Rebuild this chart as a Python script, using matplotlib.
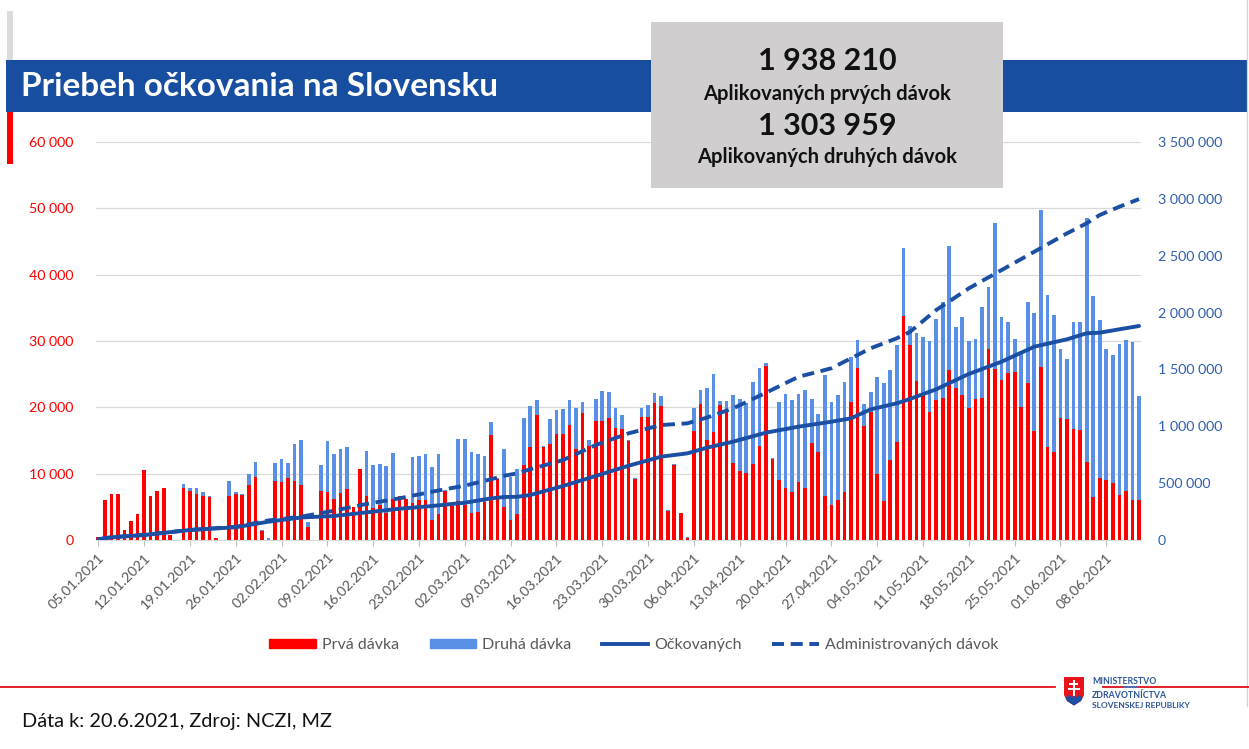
import matplotlib
matplotlib.use('Agg')
import matplotlib.pyplot as plt
from matplotlib.patches import Rectangle, Polygon, Patch
from matplotlib.lines import Line2D
from matplotlib.ticker import FuncFormatter, MultipleLocator

plt.rcParams['font.family'] = ['Lato', 'DejaVu Sans']

# ---------------- data ----------------
# daily first doses (Prvá dávka), starting 05.01.2021
prva = [400, 6060, 6970, 6970, 1520, 2930, 3990, 10500, 6620, 7370,
        7780, 760, 0, 7830, 7370, 6970, 6620, 6460, 300, 0,
        6620, 6970, 6820, 8230, 9440, 1410, 0, 8840, 8690, 9290,
        8840, 8230, 1920, 0, 7370, 7220, 6210, 7070, 7630, 4950,
        10660, 6670, 4850, 5350, 4140, 6110, 6570, 6110, 5600, 6060,
        6060, 3080, 3890, 7320, 5200, 5910, 5250, 4140, 4290, 5760,
        15760, 9240, 5000, 3080, 3890, 11360, 14040, 18840, 14040, 14440,
        15910, 15910, 17270, 13690, 19190, 14240, 17980, 17980, 18430, 16820,
        16770, 14950, 9190, 18590, 18590, 20610, 20200, 4340, 11260, 4040,
        300, 16480, 20450, 15030, 16270, 20300, 19650, 11590, 10330, 10130,
        11490, 14110, 26300, 12190, 9120, 7910, 7300, 8670, 7910, 14560,
        13250, 6700, 5290, 6050, 7200, 20860, 25890, 17180, 19290, 9920,
        5890, 12090, 14810, 33750, 29360, 23920, 21800, 19230, 21150, 21400,
        25680, 22910, 21850, 19840, 21250, 21450, 28750, 25830, 24070, 25130,
        25280, 20090, 23670, 16470, 26030, 13950, 13340, 18330, 18180, 16720,
        16570, 11730, 6450, 9320, 9060, 8660, 6750, 7450, 6040, 6040]

# daily second doses (Druhá dávka)
druha = [0, 0, 0, 0, 0, 0, 0, 0, 0, 0,
         0, 0, 0, 600, 460, 860, 600, 210, 0, 0,
         2220, 250, 150, 1670, 2330, 100, 250, 2780, 3480, 2330,
         5600, 6820, 760, 0, 3890, 7680, 6720, 6620, 6410, 0,
         100, 6710, 6510, 6150, 7070, 6970, 50, 0, 6920, 6620,
         6870, 7980, 9040, 150, 0, 9290, 9950, 9090, 8640, 6920,
         2020, 100, 8690, 6410, 6870, 7070, 6160, 2270, 150, 3840,
         3690, 3890, 3840, 6260, 1570, 810, 3330, 4550, 3940, 3130,
         2070, 100, 150, 1360, 1760, 1610, 1570, 150, 150, 0,
         200, 3370, 2120, 7870, 8820, 660, 1310, 10320, 10980, 10570,
         12290, 11890, 400, 150, 11690, 14160, 13860, 13400, 14660, 6700,
         5740, 18140, 15520, 15860, 16580, 6750, 4240, 3270, 3030, 14610,
         17790, 13500, 14560, 10250, 2870, 7300, 8860, 10830, 12130, 14550,
         18630, 9210, 11730, 10120, 9010, 13650, 9320, 22000, 9510, 7700,
         4980, 8460, 12280, 17720, 23720, 23010, 20550, 10420, 9110, 16110,
         16260, 36860, 30360, 23860, 19690, 19180, 22860, 22760, 23770, 15660]

# cumulative lines (right axis), read at day indices
ockovanych_day = [0, 2, 7, 14, 21, 26, 31, 36, 41, 46, 51, 56, 60, 62, 64, 66, 71, 76,
                  81, 86, 90, 93, 97, 102, 107, 112, 115, 118, 122, 124, 128, 133,
                  138, 143, 148, 151, 153, 156, 159]
ockovanych_val = [6000, 24000, 44000, 88000, 112000, 161000, 198000, 211000, 243000,
                  275000, 299000, 328000, 366000, 378000, 380000, 396000, 475000,
                  563000, 653000, 733000, 762000, 812000, 865000, 944000, 997000,
                  1040000, 1070000, 1149000, 1202000, 1240000, 1325000, 1460000,
                  1568000, 1700000, 1765000, 1818000, 1823000, 1853000, 1882000]

admin_day = [0, 2, 7, 14, 21, 26, 31, 36, 41, 46, 51, 56, 60, 62, 64, 66, 71, 76,
             81, 86, 90, 93, 97, 102, 107, 110, 112, 115, 118, 122, 124, 128, 133,
             138, 143, 148, 151, 153, 156, 159]
admin_val = [6000, 24000, 44000, 88000, 116000, 172000, 205000, 258000, 317000,
             366000, 425000, 478000, 534000, 565000, 586000, 622000, 703000,
             835000, 938000, 1011000, 1026000, 1077000, 1158000, 1295000, 1436000,
             1480000, 1510000, 1598000, 1686000, 1774000, 1830000, 2022000,
             2213000, 2374000, 2535000, 2697000, 2785000, 2858000, 2931000, 2998000]

date_labels = ['05.01.2021', '12.01.2021', '19.01.2021', '26.01.2021', '02.02.2021',
               '09.02.2021', '16.02.2021', '23.02.2021', '02.03.2021', '09.03.2021',
               '16.03.2021', '23.03.2021', '30.03.2021', '06.04.2021', '13.04.2021',
               '20.04.2021', '27.04.2021', '04.05.2021', '11.05.2021', '18.05.2021',
               '25.05.2021', '01.06.2021', '08.06.2021']

total_prva = '1 938 210'
total_druha = '1 303 959'

# ---------------- styles ----------------
RED = '#ff0000'
BLUE_BAR = '#5a8fe6'
LINE = '#1b4fa3'
BAND = '#174ea0'
GRAY_TXT = '#595959'
RIGHT_TXT = '#2f5fae'

W, H = 1249, 749
fig = plt.figure(figsize=(W / 100, H / 100), dpi=100)


def fx(px):
    return px / W


def fy(py):
    return 1 - py / H


ax = fig.add_axes([fx(96), fy(540), fx(1141) - fx(96), fy(142) - fy(540)])
n = len(prva)
x = list(range(n))
ax.bar(x, prva, width=0.56, color=RED, zorder=2, linewidth=0)
ax.bar(x, druha, bottom=prva, width=0.56, color=BLUE_BAR, zorder=2, linewidth=0)

ax.set_xlim(-0.35, n - 1 + 0.3)
ax.set_ylim(0, 60000)
ax.yaxis.set_major_locator(MultipleLocator(10000))
ax.yaxis.set_major_formatter(FuncFormatter(lambda v, p: f"{int(v):,}".replace(',', ' ')))
ax.grid(axis='y', color='#d9d9d9', lw=0.9)
ax.set_axisbelow(True)
for s in ['top', 'left', 'right']:
    ax.spines[s].set_visible(False)
ax.spines['bottom'].set_color('#d9d9d9')
ax.tick_params(axis='y', length=0, pad=16, labelcolor=RED, labelsize=10.3)
ax.set_xticks([7 * k for k in range(len(date_labels))])
ax.set_xticklabels(date_labels, rotation=45, ha='right', va='top',
                   rotation_mode='anchor')
ax.tick_params(axis='x', length=4, color='#bfbfbf', pad=4, labelcolor=GRAY_TXT,
               labelsize=10.3)

ax2 = ax.twinx()
ax2.set_ylim(0, 3500000)
ax2.yaxis.set_major_locator(MultipleLocator(500000))
ax2.yaxis.set_major_formatter(FuncFormatter(lambda v, p: f"{int(v):,}".replace(',', ' ')))
for s in ['top', 'left', 'right', 'bottom']:
    ax2.spines[s].set_visible(False)
ax2.tick_params(axis='y', length=0, pad=12, labelcolor=RIGHT_TXT, labelsize=10.3)
ax2.plot(admin_day, admin_val, color=LINE, lw=2.8, ls=(0, (3.1, 1.7)))
ax2.plot(ockovanych_day, ockovanych_val, color=LINE, lw=2.8, solid_capstyle='round')

# legend
handles = [Patch(color=RED), Patch(color=BLUE_BAR),
           Line2D([], [], color=LINE, lw=2.8),
           Line2D([], [], color=LINE, lw=2.8, ls=(0, (3.1, 1.7)))]
labels = ['Prvá dávka', 'Druhá dávka', 'Očkovaných', 'Administrovaných dávok']
leg = fig.legend(handles, labels, loc='center', bbox_to_anchor=(fx(634), fy(645)),
                 ncol=4, frameon=False, fontsize=11.5, handlelength=2.9,
                 handleheight=0.55, handletextpad=0.4, columnspacing=1.9)
for t in leg.get_texts():
    t.set_color(GRAY_TXT)

# ---------------- overlay decorations ----------------
ov = fig.add_axes([0, 0, 1, 1], zorder=10)
ov.set_xlim(0, W)
ov.set_ylim(H, 0)
ov.axis('off')

ov.add_patch(Rectangle((7, 11), 5.7, 48.5, color='#dcdcdc', lw=0))
ov.add_patch(Rectangle((6, 59.5), 1241, 52.5, color=BAND, lw=0))
ov.add_patch(Rectangle((7, 112), 5.7, 52, color=RED, lw=0))
ov.plot([1247.5, 1247.5], [0, 706], color='#d4d4d4', lw=0.9)
ov.text(21, 86, 'Priebeh očkovania na Slovensku', color='white', fontsize=24,
        fontweight='bold', va='center', ha='left')

ov.add_patch(Rectangle((651, 21.5), 352, 166, color='#d0cecf', lw=0))
cx = 827
ov.text(cx, 61, total_prva, ha='center', va='center', fontsize=22,
        fontweight='bold', color='#111111')
ov.text(cx, 94, 'Aplikovaných prvých dávok', ha='center', va='center',
        fontsize=14.5, fontweight='bold', color='#111111')
ov.text(cx, 126, total_druha, ha='center', va='center', fontsize=22,
        fontweight='bold', color='#111111')
ov.text(cx, 157, 'Aplikovaných druhých dávok', ha='center', va='center',
        fontsize=14.5, fontweight='bold', color='#111111')

# footer
ov.plot([0, 1055], [687, 687], color='#e0101a', lw=1.3)
ov.plot([1103, 1249], [687, 687], color='#e0101a', lw=1.3)
ov.plot([1125, 1137], [687, 687], color='#4472c4', lw=1.3)
ov.text(22, 721, 'Dáta k: 20.6.2021, Zdroj: NCZI, MZ', fontsize=14.3,
        va='center', ha='left', color='#111111')

# logo (shield)
shield = Polygon([(1064, 677), (1084, 677), (1084, 695), (1081, 701), (1074, 705.5),
                  (1067, 701), (1064, 695)], closed=True, color='#e8141c', lw=0)
ov.add_patch(shield)
hills = Polygon([(1065.5, 698), (1069, 695), (1072, 697.5), (1074, 695), (1076, 697.5),
                 (1079, 695), (1082.5, 698), (1081, 701), (1074, 705.5), (1067, 701)],
                closed=True, color='#1f4fa3', lw=0)
ov.add_patch(hills)
ov.add_patch(Rectangle((1072.9, 680), 2.2, 15.5, color='white', lw=0))
ov.add_patch(Rectangle((1069.5, 683.3), 9, 2, color='white', lw=0))
ov.add_patch(Rectangle((1068, 688), 12, 2.2, color='white', lw=0))
ov.text(1092, 682, 'MINISTERSTVO', fontsize=6.3, color='#2f5597', va='center',
        ha='left', fontweight='bold')
ov.text(1092, 695, 'ZDRAVOTNÍCTVA', fontsize=6.3, color='#2f5597', va='center',
        ha='left', fontweight='bold')
ov.text(1092, 705.5, 'SLOVENSKEJ REPUBLIKY', fontsize=6.0, color='#2f5597',
        va='center', ha='left', fontweight='bold')

fig.savefig('out.png', dpi=100)
